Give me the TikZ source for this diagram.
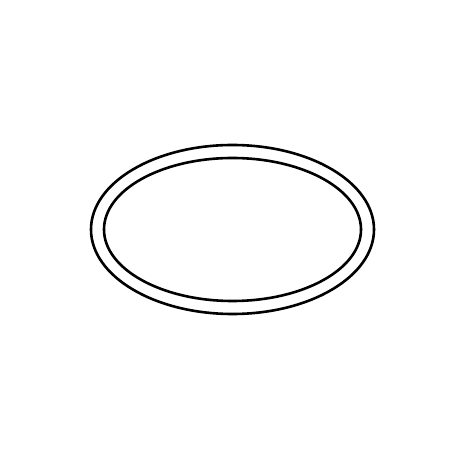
\documentclass[tikz,border=0pt]{standalone}
\usepackage{tikz}
\usetikzlibrary{calc}

\begin{document}
\begin{tikzpicture}[x=1pt,y=1pt]
\useasboundingbox (0,0) rectangle (465,465);
\coordinate (o) at (232.5,235.5);
\draw[line width=2.6pt] (o) ellipse [x radius=141.5, y radius=84.5];
\draw[line width=2.6pt] (o) ellipse [x radius=128.5, y radius=71.5];
\end{tikzpicture}
\end{document}
